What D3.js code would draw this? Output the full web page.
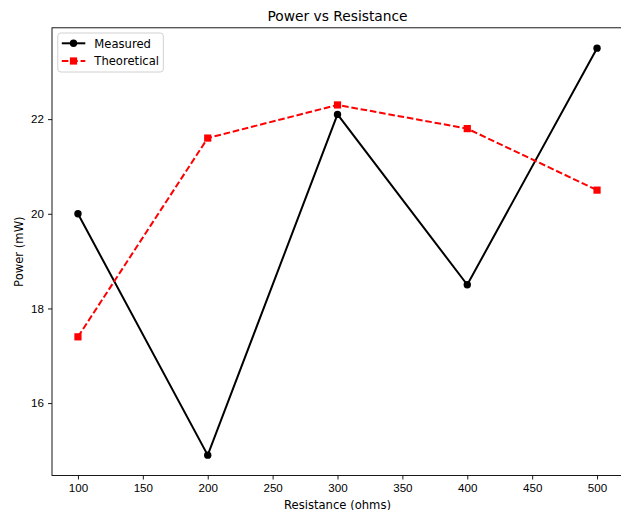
<!DOCTYPE html>
<html>
<head>
<meta charset="utf-8">
<script src="https://cdn.jsdelivr.net/npm/d3@7"></script>
<style>
  body { margin: 0; background: #fff; }
  svg { font-family: "DejaVu Sans", sans-serif; }
</style>
</head>
<body>
<script>
var resistance = [100, 200, 300, 400, 500];
var measured = [20.0, 14.9, 22.1, 18.5, 23.5];
var theoretical = [17.4, 21.6, 22.3, 21.8, 20.5];
var xTicks = [100, 150, 200, 250, 300, 350, 400, 450, 500];
var yTicks = [16, 18, 20, 22];

var width = 621, height = 510;
var plotLeft = 52, plotTop = 27.8, plotRight = 623, plotBottom = 475.5;
var fs = 11.6;

var svg = d3.select("body").append("svg")
    .attr("width", width)
    .attr("height", height);

var x = d3.scaleLinear().domain([80, 520]).range([plotLeft, plotRight]);
var y = d3.scaleLinear().domain([14.47, 23.93]).range([plotBottom, plotTop]);

// axes
svg.append("g")
    .attr("transform", "translate(0," + plotBottom + ")")
    .call(d3.axisBottom(x).tickValues(xTicks).tickSize(4).tickPadding(4).tickFormat(d3.format("d")))
    .call(function (g) { g.select(".domain").remove(); })
    .selectAll("text").attr("font-size", fs).attr("fill", "#000");

svg.append("g")
    .attr("transform", "translate(" + plotLeft + ",0)")
    .call(d3.axisLeft(y).tickValues(yTicks).tickSize(4).tickPadding(4).tickFormat(d3.format("d")))
    .call(function (g) { g.select(".domain").remove(); })
    .selectAll("text").attr("font-size", fs).attr("fill", "#000");

svg.selectAll(".tick line").attr("stroke", "#000").attr("stroke-width", 0.9);

// frame
svg.append("rect")
    .attr("x", plotLeft).attr("y", plotTop)
    .attr("width", plotRight - plotLeft).attr("height", plotBottom - plotTop)
    .attr("fill", "none").attr("stroke", "#000").attr("stroke-width", 0.9);

var line = d3.line()
    .x(function (d, i) { return x(resistance[i]); })
    .y(function (d) { return y(d); });

// measured
svg.append("path")
    .datum(measured)
    .attr("d", line)
    .attr("fill", "none")
    .attr("stroke", "#000")
    .attr("stroke-width", 2);

svg.selectAll(".mdot")
    .data(measured)
    .enter().append("circle")
    .attr("class", "mdot")
    .attr("cx", function (d, i) { return x(resistance[i]); })
    .attr("cy", function (d) { return y(d); })
    .attr("r", 3.7)
    .attr("fill", "#000");

// theoretical
svg.append("path")
    .datum(theoretical)
    .attr("d", line)
    .attr("fill", "none")
    .attr("stroke", "red")
    .attr("stroke-width", 2)
    .attr("stroke-dasharray", "6.6,2.8");

svg.selectAll(".tsq")
    .data(theoretical)
    .enter().append("rect")
    .attr("class", "tsq")
    .attr("x", function (d, i) { return x(resistance[i]) - 3.6; })
    .attr("y", function (d) { return y(d) - 3.6; })
    .attr("width", 7.2)
    .attr("height", 7.2)
    .attr("fill", "red");

// title and labels
svg.append("text")
    .attr("x", 337.5).attr("y", 21)
    .attr("text-anchor", "middle")
    .attr("font-size", 13.8)
    .text("Power vs Resistance");

svg.append("text")
    .attr("x", 337.5).attr("y", 509)
    .attr("text-anchor", "middle")
    .attr("font-size", fs)
    .text("Resistance (ohms)");

svg.append("text")
    .attr("transform", "translate(22.5," + ((plotTop + plotBottom) / 2) + ") rotate(-90)")
    .attr("text-anchor", "middle")
    .attr("font-size", fs)
    .text("Power (mW)");

// legend
var legend = svg.append("g").attr("transform", "translate(57.8,33)");
legend.append("rect")
    .attr("width", 105.5).attr("height", 39)
    .attr("rx", 3)
    .attr("fill", "#fff").attr("fill-opacity", 0.8)
    .attr("stroke", "#ccc").attr("stroke-width", 0.9);

legend.append("line")
    .attr("x1", 4).attr("x2", 27.5).attr("y1", 10.3).attr("y2", 10.3)
    .attr("stroke", "#000").attr("stroke-width", 2);
legend.append("circle").attr("cx", 15.7).attr("cy", 10.3).attr("r", 3.7).attr("fill", "#000");
legend.append("text").attr("x", 36.5).attr("y", 14.6).attr("font-size", fs).text("Measured");

legend.append("line")
    .attr("x1", 4).attr("x2", 27.5).attr("y1", 28).attr("y2", 28)
    .attr("stroke", "red").attr("stroke-width", 2)
    .attr("stroke-dasharray", "6.6,2.8");
legend.append("rect").attr("x", 12.1).attr("y", 24.4).attr("width", 7.2).attr("height", 7.2).attr("fill", "red");
legend.append("text").attr("x", 36.5).attr("y", 32.3).attr("font-size", fs).text("Theoretical");
</script>
</body>
</html>
